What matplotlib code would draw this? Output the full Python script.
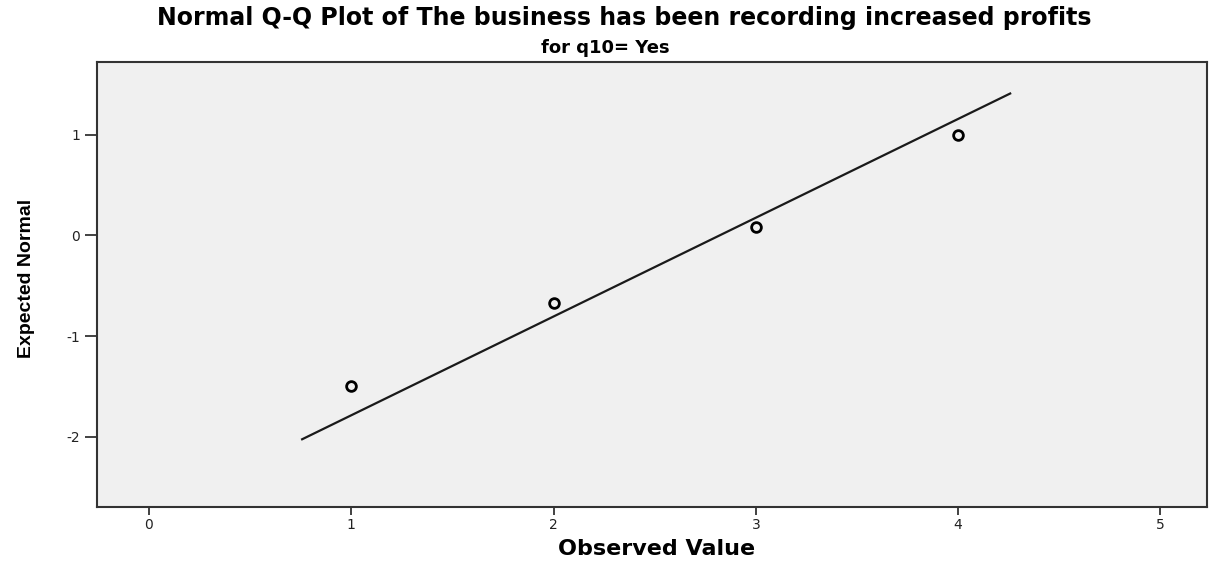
import matplotlib
matplotlib.use("Agg")
import matplotlib.pyplot as plt
from matplotlib import font_manager
import numpy as np

# Observed values and their expected normal scores
observed = [1, 2, 3, 4]
expected_normal = [-1.50, -0.67, 0.08, 1.00]

# Reference line: expected = (x - mean) / sd
line_mean = 2.82
line_sd = 1.018
line_x_range = [0.757, 4.257]

x_ticks = [0, 1, 2, 3, 4, 5]
y_ticks = [-2, -1, 0, 1]

title = "Normal Q-Q Plot of The business has been recording increased profits"
subtitle = "for q10= Yes"
x_label = "Observed Value"
y_label = "Expected Normal"

plt.rcParams['font.family'] = ['DejaVu Sans']
plt.rcParams['axes.unicode_minus'] = False

# Narrow face for the vertical axis label, if available
installed = {f.name for f in font_manager.fontManager.ttflist}
if 'Liberation Sans Narrow' in installed:
    ylabel_font, ylabel_size = 'Liberation Sans Narrow', 17
else:
    ylabel_font, ylabel_size = 'Liberation Sans', 14

fig = plt.figure(figsize=(12.23, 5.65), dpi=100)
ax = fig.add_axes([97 / 1223, 58 / 565, 1110 / 1223, 445 / 565])
ax.set_facecolor('#f0f0f0')

lx = np.array(line_x_range)
ly = (lx - line_mean) / line_sd
ax.plot(lx, ly, color='#1a1a1a', linewidth=1.6, zorder=2)

ax.plot(observed, expected_normal, linestyle='none', marker='o',
        markersize=7, markerfacecolor='none', markeredgecolor='black',
        markeredgewidth=2.0, zorder=3)

ax.set_xlim(-0.257, 5.23)
ax.set_ylim(-2.70, 1.725)
ax.set_xticks(x_ticks)
ax.set_yticks(y_ticks)
ax.tick_params(axis='both', direction='out', width=1.3,
               color='#333333', labelsize=10, labelcolor='#222222')
ax.tick_params(axis='x', length=6, pad=2)
ax.tick_params(axis='y', length=9, pad=3)
for s in ax.spines.values():
    s.set_color('#333333')
    s.set_linewidth(1.5)

fig.text(657 / 1223, 1 - 549 / 565, x_label, ha='center', va='center',
         fontsize=16, fontweight='bold')
fig.text(27 / 1223, 1 - 278 / 565, y_label, ha='center', va='center',
         rotation=90, fontsize=ylabel_size, fontweight='bold',
         family=[ylabel_font, 'DejaVu Sans'])

fig.text(624 / 1223, 1 - 18 / 565, title, ha='center', va='center',
         fontsize=17, fontweight='bold')
fig.text(605 / 1223, 1 - 48 / 565, subtitle, ha='center', va='center',
         fontsize=13, fontweight='bold')

fig.savefig('out.png', dpi=100, facecolor='white')
